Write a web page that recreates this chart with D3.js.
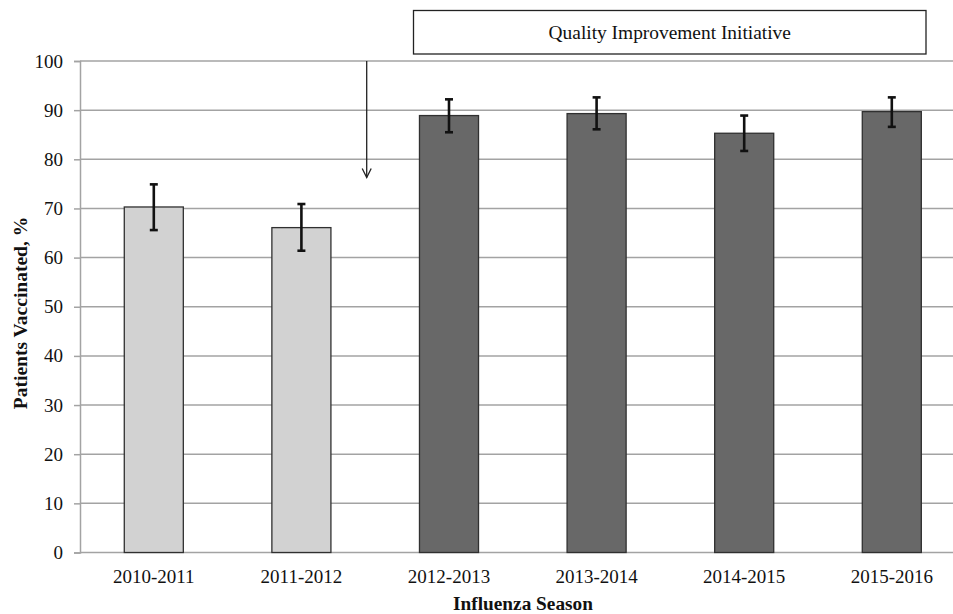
<!DOCTYPE html>
<html>
<head>
<meta charset="utf-8">
<script src="https://cdn.jsdelivr.net/npm/d3@7"></script>
<style>
  html, body { margin: 0; padding: 0; background: #fff; }
  svg { display: block; }
  svg text { font-family: "Liberation Serif", "Times New Roman", serif; }
</style>
</head>
<body>
<svg id="chart" width="953" height="614"></svg>
<script>
// Influenza vaccination rate by season, with error bars
const seasons = ["2010-2011", "2011-2012", "2012-2013", "2013-2014", "2014-2015", "2015-2016"];
const vaccinated = [70.3, 66.1, 88.9, 89.3, 85.3, 89.7];
const errLow = [65.6, 61.4, 85.5, 86.1, 81.7, 86.6];
const errHigh = [74.9, 70.9, 92.2, 92.6, 88.9, 92.6];
const afterInitiative = [false, false, true, true, true, true];
const yTicks = [0, 10, 20, 30, 40, 50, 60, 70, 80, 90, 100];
const initiativeLabel = "Quality Improvement Initiative";

const serif = '"Liberation Serif", "Times New Roman", serif';
const svg = d3.select("#chart");
const plotLeft = 80, plotTop = 61, plotBottom = 552.5, plotRight = 965.6;

const x = d3.scaleBand().domain(seasons).range([plotLeft, plotRight])
  .paddingInner(0.6).paddingOuter(0.3);
const y = d3.scaleLinear().domain([0, 100]).range([plotBottom, plotTop]);

// horizontal gridlines
svg.append("g").selectAll("line").data(yTicks).join("line")
  .attr("x1", plotLeft).attr("x2", plotRight)
  .attr("y1", d => y(d)).attr("y2", d => y(d))
  .attr("stroke", "#a3a3a3").attr("stroke-width", 1.5);

// y axis
const yAxis = svg.append("g").attr("transform", `translate(${plotLeft},0)`)
  .call(d3.axisLeft(y).tickValues(yTicks).tickSize(6).tickPadding(11));
yAxis.attr("font-family", null).attr("font-size", null);
yAxis.select(".domain").attr("stroke", "#a3a3a3").attr("stroke-width", 1.5);
yAxis.selectAll(".tick line").attr("stroke", "#a3a3a3").attr("stroke-width", 1.5);
yAxis.selectAll("text").style("font-family", serif).style("font-size", "19px").attr("fill", "#111");

// x axis labels
const xAxis = svg.append("g").attr("transform", `translate(0,${plotBottom})`)
  .call(d3.axisBottom(x).tickSize(0).tickPadding(17));
xAxis.attr("font-family", null).attr("font-size", null);
xAxis.select(".domain").remove();
xAxis.selectAll("text").style("font-family", serif).style("font-size", "19px").attr("fill", "#111");

// bars
svg.append("g").selectAll("rect").data(seasons).join("rect")
  .attr("x", d => x(d))
  .attr("width", x.bandwidth())
  .attr("y", (d, i) => y(vaccinated[i]))
  .attr("height", (d, i) => y(0) - y(vaccinated[i]))
  .attr("fill", (d, i) => afterInitiative[i] ? "#686868" : "#d2d2d2")
  .attr("stroke", "#303030").attr("stroke-width", 1.3);

// error bars
const eb = svg.append("g").attr("stroke", "#111").attr("stroke-width", 2.6);
seasons.forEach((s, i) => {
  const cx = x(s) + x.bandwidth() / 2;
  eb.append("line").attr("x1", cx).attr("x2", cx)
    .attr("y1", y(errLow[i])).attr("y2", y(errHigh[i]));
  [errLow[i], errHigh[i]].forEach(v => {
    eb.append("line").attr("x1", cx - 4).attr("x2", cx + 4)
      .attr("y1", y(v)).attr("y2", y(v));
  });
});

// initiative marker: arrow between the second and third seasons
const arrowX = (x(seasons[1]) + x.bandwidth() + x(seasons[2])) / 2 - 8.5;
const arrowEnd = y(76.3);
svg.append("line").attr("x1", arrowX).attr("x2", arrowX)
  .attr("y1", y(100)).attr("y2", arrowEnd)
  .attr("stroke", "#222").attr("stroke-width", 1.3);
svg.append("path")
  .attr("d", `M${arrowX - 4.5},${arrowEnd - 9} L${arrowX},${arrowEnd} L${arrowX + 4.5},${arrowEnd - 9}`)
  .attr("fill", "none").attr("stroke", "#222").attr("stroke-width", 1.3);

// initiative label box
const boxX0 = 413.5, boxX1 = 926, boxY0 = 10.5, boxY1 = 54;
svg.append("rect").attr("x", boxX0).attr("y", boxY0)
  .attr("width", boxX1 - boxX0).attr("height", boxY1 - boxY0)
  .attr("fill", "#fff").attr("stroke", "#222").attr("stroke-width", 1.3);
svg.append("text").attr("x", (boxX0 + boxX1) / 2).attr("y", 38.5)
  .attr("text-anchor", "middle").style("font-size", "19.4px").attr("fill", "#111")
  .text(initiativeLabel);

// axis titles
svg.append("text").attr("x", 523).attr("y", 610)
  .attr("text-anchor", "middle").style("font-size", "19.3px").attr("font-weight", "bold")
  .attr("fill", "#111").text("Influenza Season");
svg.append("text")
  .attr("transform", `translate(27,313) rotate(-90)`)
  .attr("text-anchor", "middle").style("font-size", "19.5px").attr("font-weight", "bold")
  .attr("fill", "#111").text("Patients Vaccinated, %");
</script>
</body>
</html>
